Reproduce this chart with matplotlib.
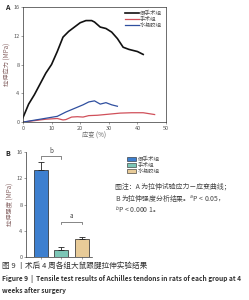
import matplotlib
matplotlib.use("Agg")
import matplotlib.pyplot as plt
import numpy as np

plt.rcParams["font.family"] = ["Noto Sans CJK SC", "DejaVu Sans"]
plt.rcParams["axes.unicode_minus"] = False

# ---- panel A: stress-strain curves ----
groups = ["假手术组", "手术组", "水凝胶组"]

sham_x = [0, 2, 4, 6, 8, 10, 12, 14, 16, 18, 20, 22, 24, 25, 27, 29, 31, 33, 35, 37, 40, 42]
sham_y = [0.6, 2.5, 3.8, 5.3, 6.8, 8.0, 9.8, 11.8, 12.6, 13.2, 13.8, 14.1, 14.1, 13.9,
          13.2, 13.0, 12.5, 11.6, 10.4, 10.1, 9.8, 9.4]
op_x = [0, 4, 8, 12, 14, 15, 17, 19, 21, 23, 26, 30, 34, 38, 42, 46]
op_y = [0.0, 0.2, 0.4, 0.5, 0.3, 0.35, 0.7, 0.75, 0.7, 0.9, 0.95, 1.1, 1.25, 1.3, 1.3, 1.05]
gel_x = [0, 3, 6, 9, 12, 15, 18, 21, 23, 25, 27, 29, 31, 33]
gel_y = [0.0, 0.2, 0.4, 0.6, 0.8, 1.4, 1.9, 2.4, 2.8, 2.95, 2.5, 2.7, 2.4, 2.2]

# ---- panel B: tensile strength ----
strength = [13.3, 1.1, 2.8]
strength_err = [1.2, 0.4, 0.2]

LINE_COLORS = ["#111111", "#d0505a", "#2f4f9f"]
BAR_COLORS = ["#3d7fcf", "#7cc6b6", "#e8cb98"]
TXT = "#444444"

fig = plt.figure(figsize=(2.49, 3.0), dpi=100)

# A
axA = fig.add_axes([0.092, 0.593, 0.575, 0.384])
for xs, ys, c, lab, lw in zip([sham_x, op_x, gel_x], [sham_y, op_y, gel_y],
                              LINE_COLORS, groups, [1.2, 0.9, 0.9]):
    axA.plot(xs, ys, color=c, linewidth=lw, label=lab)
axA.set_xlim(0, 50)
axA.set_ylim(0, 16)
axA.set_xticks([0, 10, 20, 30, 40, 50])
axA.set_yticks([0, 4, 8, 12, 16])
axA.tick_params(labelsize=4, length=1.5, width=0.4, pad=1, colors="#555555")
for sp in axA.spines.values():
    sp.set_linewidth(0.5)
    sp.set_color("#333333")
axA.set_xlabel("应变 (%)", fontsize=4.5, color="#666666", labelpad=1)
axA.set_ylabel("拉伸应力 (MPa)", fontsize=4.5, color="#886666", labelpad=1)
axA.legend(loc="upper right", fontsize=4, frameon=False, handlelength=2.4,
           handletextpad=0.3, labelspacing=0.15, borderaxespad=0.3,
           labelcolor="#555555")

# B
axB = fig.add_axes([0.104, 0.143, 0.266, 0.350])
pos = np.arange(len(strength))
axB.bar(pos, strength, width=0.68, color=BAR_COLORS, edgecolor="#222222",
        linewidth=0.5, label=groups)
axB.errorbar(pos, strength, yerr=[[0] * 3, strength_err], fmt="none",
             ecolor="#222222", elinewidth=0.6, capsize=2, capthick=0.6)
axB.set_xlim(-0.73, 2.5)
axB.set_ylim(0, 16)
axB.set_yticks([0, 4, 8, 12, 16])
axB.set_xticks(pos)
axB.set_xticklabels([])
axB.tick_params(labelsize=4, length=1.5, width=0.4, pad=1, colors="#555555")
axB.spines["top"].set_visible(False)
axB.spines["right"].set_visible(False)
for sp in ("left", "bottom"):
    axB.spines[sp].set_linewidth(0.5)
    axB.spines[sp].set_color("#333333")
axB.set_ylabel("拉伸强度 (MPa)", fontsize=4.5, color="#886666", labelpad=1)

# significance brackets
for (x0, x1), yb, mark in [((0, 1), 15.4, "b"), ((1, 2), 5.4, "a")]:
    axB.plot([x0, x0, x1, x1], [yb - 0.4, yb, yb, yb - 0.4], color="#555555",
             linewidth=0.5)
    axB.text((x0 + x1) / 2, yb + 0.2, mark, ha="center", va="bottom",
             fontsize=4.5, color="#444444")

handles = [plt.Rectangle((0, 0), 1, 1, facecolor=c, edgecolor="#222222",
                         linewidth=0.4) for c in BAR_COLORS]
fig.legend(handles, groups, loc="upper left", bbox_to_anchor=(0.49, 0.495),
           fontsize=4, frameon=False, handlelength=1.6, handleheight=0.8,
           handletextpad=0.3, labelspacing=0.15, labelcolor="#555555")

# panel letters
fig.text(0.02, 0.985, "A", fontsize=5, fontweight="bold", va="top", color="#222222")
fig.text(0.02, 0.50, "B", fontsize=5, fontweight="bold", va="top", color="#222222")

# note
note = ["图注：A 为拉伸试验应力－应变曲线；",
        "B 为拉伸强度分析结果。$^{a}$P < 0.05，",
        "$^{b}$P < 0.000 1。"]
for i, line in enumerate(note):
    fig.text(0.462, 0.377 - i * 0.039, line, fontsize=4.95, color=TXT, va="center")

# caption
fig.text(0.01, 0.113, "图 9 丨术后 4 周各组大鼠跟腱拉伸实验结果", fontsize=5.5,
         color="#333333", va="center")
fig.text(0.01, 0.07, "Figure 9  |  Tensile test results of Achilles tendons in rats of each group at 4",
         fontsize=4.75, color="#333333", va="center", fontweight="bold")
fig.text(0.01, 0.03, "weeks after surgery", fontsize=4.75, color="#333333",
         va="center", fontweight="bold")

fig.savefig("out.png", dpi=100)
